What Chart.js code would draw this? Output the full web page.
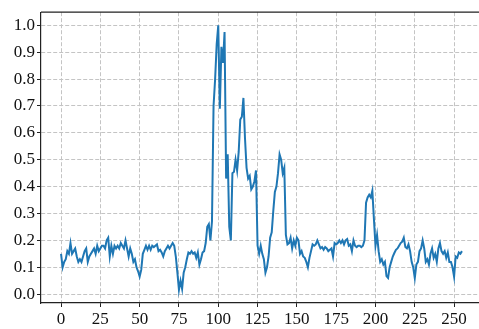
<!DOCTYPE html>
<html>
<head>
<meta charset="utf-8">
<script src="https://cdn.jsdelivr.net/npm/chart.js@4.4.1/dist/chart.umd.min.js"></script>
<style>
  html, body { margin: 0; padding: 0; background: #fff; overflow: hidden; }
  #wrap { width: 479px; height: 329px; overflow: hidden; }
  #probe { position: absolute; left: -999px; font-family: "Liberation Serif"; font-size: 17px; }
</style>
</head>
<body>
<span id="probe">0.1234567890</span>
<div id="wrap"><canvas id="chart" width="490" height="329"></canvas></div>
<script>
// series, one value per step (index 0..255)
let values = [
    0.15, 0.10, 0.12, 0.13, 0.16, 0.15, 0.19, 0.15, 0.16, 0.17,
    0.14, 0.12, 0.13, 0.12, 0.14, 0.16, 0.17, 0.12, 0.14, 0.15,
    0.16, 0.17, 0.15, 0.18, 0.16, 0.17, 0.18, 0.18, 0.17, 0.20,
    0.21, 0.14, 0.18, 0.15, 0.18, 0.17, 0.18, 0.17, 0.19, 0.18,
    0.17, 0.20, 0.17, 0.14, 0.17, 0.15, 0.12, 0.13, 0.10, 0.085,
    0.065, 0.09, 0.15, 0.165, 0.18, 0.165, 0.18, 0.165, 0.18, 0.175,
    0.18, 0.185, 0.16, 0.165, 0.155, 0.14, 0.16, 0.17, 0.18, 0.17,
    0.18, 0.19, 0.18, 0.14, 0.08, 0.016, 0.05, 0.02, 0.08, 0.10,
    0.13, 0.155, 0.15, 0.16, 0.15, 0.155, 0.135, 0.155, 0.11, 0.13,
    0.155, 0.16, 0.19, 0.25, 0.26, 0.20, 0.27, 0.70, 0.80, 0.93,
    1.0, 0.69, 0.92, 0.86, 0.975, 0.43, 0.52, 0.25, 0.20, 0.45,
    0.455, 0.50, 0.46, 0.53, 0.65, 0.66, 0.73, 0.58, 0.47, 0.43,
    0.44, 0.39, 0.40, 0.42, 0.46, 0.18, 0.15, 0.18, 0.15, 0.13,
    0.08, 0.10, 0.14, 0.21, 0.23, 0.31, 0.38, 0.40, 0.45, 0.52,
    0.50, 0.45, 0.47, 0.22, 0.185, 0.19, 0.21, 0.17, 0.20, 0.18,
    0.21, 0.20, 0.15, 0.16, 0.14, 0.135, 0.12, 0.10, 0.135, 0.16,
    0.185, 0.18, 0.185, 0.20, 0.185, 0.17, 0.175, 0.165, 0.175, 0.17,
    0.16, 0.165, 0.17, 0.14, 0.19, 0.185, 0.19, 0.20, 0.19, 0.20,
    0.185, 0.20, 0.205, 0.18, 0.185, 0.16, 0.20, 0.18, 0.175, 0.18,
    0.18, 0.175, 0.18, 0.20, 0.34, 0.36, 0.37, 0.36, 0.385, 0.28,
    0.18, 0.22, 0.16, 0.12, 0.13, 0.11, 0.12, 0.067, 0.06, 0.10,
    0.12, 0.14, 0.153, 0.165, 0.17, 0.18, 0.19, 0.195, 0.21, 0.175,
    0.17, 0.185, 0.16, 0.12, 0.10, 0.06, 0.11, 0.12, 0.16, 0.17,
    0.20, 0.17, 0.12, 0.13, 0.11, 0.15, 0.17, 0.135, 0.15, 0.12,
    0.17, 0.19, 0.16, 0.15, 0.16, 0.135, 0.155, 0.12, 0.12, 0.10,
    0.065, 0.14, 0.135, 0.155, 0.15, 0.16
];
let xTicks = [0, 25, 50, 75, 100, 125, 150, 175, 200, 225, 250];
let yTicks = [0.0, 0.1, 0.2, 0.3, 0.4, 0.5, 0.6, 0.7, 0.8, 0.9, 1.0];

let points = values.map(function (v, i) { return { x: i, y: v }; });

// top/right spines like matplotlib
let frame = {
    id: 'frame',
    afterDraw: function (chart) {
        let a = chart.chartArea, c = chart.ctx;
        c.save();
        c.strokeStyle = '#222';
        c.lineWidth = 1.2;
        c.beginPath();
        c.moveTo(a.left, a.top);
        c.lineTo(a.right, a.top);
        c.lineTo(a.right, a.bottom);
        c.stroke();
        c.restore();
    }
};

let font = { family: "'Liberation Serif', 'Times New Roman', serif", size: 17 };
let grid = {
    color: '#c4c4c4',
    lineWidth: 1,
    tickColor: '#222',
    tickLength: 4,
    tickBorderDash: [],
    tickWidth: 1
};
let border = { color: '#222', width: 1.2, dash: [4, 2] };

function draw() {
    Chart.defaults.font.family = font.family;
    new Chart(document.getElementById('chart').getContext('2d'), {
        type: 'line',
        data: {
            datasets: [{
                data: points,
                borderColor: '#1f77b4',
                borderWidth: 2,
                pointRadius: 0,
                tension: 0,
                fill: false
            }]
        },
        options: {
            responsive: false,
            animation: false,
            devicePixelRatio: 1,
            layout: { padding: { top: 7, right: 8, left: 0, bottom: 0 } },
            plugins: { legend: { display: false }, tooltip: { enabled: false } },
            scales: {
                x: {
                    type: 'linear',
                    min: -12.75,
                    max: 267.75,
                    afterBuildTicks: function (s) { s.ticks = xTicks.map(function (v) { return { value: v }; }); },
                    afterFit: function (s) { s.height = 26; },
                    grid: grid,
                    border: border,
                    ticks: { color: '#111', font: font, padding: 2, maxRotation: 0, autoSkip: false }
                },
                y: {
                    min: -0.033,
                    max: 1.049,
                    afterBuildTicks: function (s) { s.ticks = yTicks.map(function (v) { return { value: v }; }); },
                    afterFit: function (s) { s.width = 41; },
                    grid: grid,
                    border: border,
                    ticks: {
                        color: '#111', font: font, padding: 2, autoSkip: false,
                        callback: function (v) { return v.toFixed(1); }
                    }
                }
            }
        },
        plugins: [frame]
    });
}

if (document.fonts && document.fonts.load) {
    document.fonts.load("17px 'Liberation Serif'").then(draw, draw);
} else {
    draw();
}
</script>
</body>
</html>
